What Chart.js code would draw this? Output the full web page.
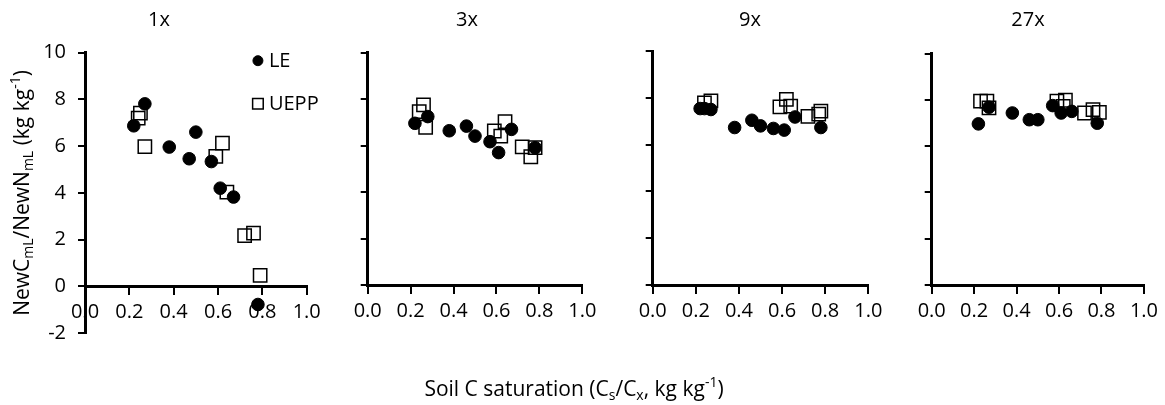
<!DOCTYPE html>
<html>
<head>
<meta charset="utf-8">
<script src="https://cdn.jsdelivr.net/npm/chart.js@4.4.1/dist/chart.umd.min.js"></script>
<style>
  html, body { margin: 0; padding: 0; background: #fff; }
  #wrap { position: relative; width: 1165px; height: 405px; }
  #wrap canvas { position: absolute; left: 0; top: 0; }
</style>
</head>
<body>
<div id="wrap">
  <canvas id="p0" width="1165" height="405"></canvas>
  <canvas id="p1" width="1165" height="405"></canvas>
  <canvas id="p2" width="1165" height="405"></canvas>
  <canvas id="p3" width="1165" height="405"></canvas>
</div>
<script>
// panel titles (number of doses)
const panelTitles = ["1x", "3x", "9x", "27x"];
const seriesNames = ["LE", "UEPP"];

// soil C saturation (x) and NewC/NewN ratio (y), per panel
const le1xX = [0.22, 0.27, 0.38, 0.47, 0.50, 0.57, 0.61, 0.67, 0.78];
const le1xY = [6.87, 7.81, 5.96, 5.46, 6.60, 5.34, 4.20, 3.82, -0.78];
const uepp1xX = [0.24, 0.25, 0.27, 0.59, 0.62, 0.64, 0.72, 0.76, 0.79];
const uepp1xY = [7.20, 7.41, 5.98, 5.56, 6.13, 4.03, 2.17, 2.28, 0.47];

const le3xX = [0.22, 0.28, 0.38, 0.46, 0.50, 0.57, 0.61, 0.67, 0.78];
const le3xY = [6.96, 7.25, 6.64, 6.84, 6.41, 6.17, 5.70, 6.70, 5.91];
const uepp3xX = [0.24, 0.26, 0.27, 0.59, 0.62, 0.64, 0.72, 0.76, 0.78];
const uepp3xY = [7.46, 7.75, 6.79, 6.63, 6.41, 7.03, 5.95, 5.52, 5.91];

const le9xX = [0.22, 0.24, 0.27, 0.38, 0.46, 0.50, 0.56, 0.61, 0.66, 0.78];
const le9xY = [7.54, 7.54, 7.50, 6.73, 7.04, 6.80, 6.69, 6.62, 7.18, 6.73];
const uepp9xX = [0.24, 0.27, 0.59, 0.62, 0.64, 0.72, 0.77, 0.78];
const uepp9xY = [7.78, 7.87, 7.61, 7.93, 7.64, 7.21, 7.30, 7.43];

const le27xX = [0.22, 0.27, 0.38, 0.46, 0.50, 0.57, 0.61, 0.66, 0.78];
const le27xY = [6.96, 7.68, 7.43, 7.14, 7.14, 7.75, 7.43, 7.50, 6.99];
const uepp27xX = [0.23, 0.26, 0.27, 0.59, 0.62, 0.63, 0.72, 0.76, 0.79];
const uepp27xY = [7.94, 7.94, 7.65, 7.94, 7.72, 7.98, 7.43, 7.58, 7.46];

const xTicks = [0, 0.2, 0.4, 0.6, 0.8, 1.0];
const yTickLabels1x = [-2, 0, 2, 4, 6, 8, 10];

const FONT = "'Open Sans', sans-serif";
const Y_AXIS_W = 40;

// plot area of each panel on the page
const panels = [
  { le: [le1xX, le1xY], uepp: [uepp1xX, uepp1xY], yMin: -2, left: 85, right: 306.7, top: 52.7, bottom: 333, titleX: 159 },
  { le: [le3xX, le3xY], uepp: [uepp3xX, uepp3xY], yMin: 0, left: 367.7, right: 582.3, top: 52.7, bottom: 285, titleX: 467 },
  { le: [le9xX, le9xY], uepp: [uepp9xX, uepp9xY], yMin: 0, left: 652.7, right: 868.3, top: 51, bottom: 285, titleX: 750 },
  { le: [le27xX, le27xY], uepp: [uepp27xX, uepp27xY], yMin: 0, left: 931.7, right: 1145, top: 53.5, bottom: 285, titleX: 1028 }
];

function toPoints(xs, ys) {
  return xs.map((x, i) => ({ x: x, y: ys[i] }));
}

// draws text with sub/superscript pieces, centred on (cx, cy)
function drawRich(ctx, pieces, cx, cy, size, rotate) {
  ctx.save();
  ctx.translate(cx, cy);
  if (rotate) ctx.rotate(-Math.PI / 2);
  ctx.textBaseline = "middle";
  ctx.textAlign = "left";
  ctx.fillStyle = "#000";
  const small = Math.round(size * 0.65);
  let total = 0;
  pieces.forEach(p => {
    ctx.font = (p[1] ? small : size) + "px " + FONT;
    total += ctx.measureText(p[0]).width;
  });
  let x = -total / 2;
  pieces.forEach(p => {
    const s = p[1] ? small : size;
    ctx.font = s + "px " + FONT;
    let dy = 0;
    if (p[1] === "sub") dy = size * 0.28;
    if (p[1] === "sup") dy = -size * 0.32;
    ctx.fillText(p[0], x, dy);
    x += ctx.measureText(p[0]).width;
  });
  ctx.restore();
}

const panelTitlePlugin = {
  id: "panelTitle",
  afterDraw(chart, args, opts) {
    const ctx = chart.ctx;
    ctx.save();
    ctx.font = "20px " + FONT;
    ctx.fillStyle = "#000";
    ctx.textAlign = "center";
    ctx.textBaseline = "middle";
    ctx.fillText(opts.text, opts.x, 20);
    ctx.restore();
  }
};

// axis titles and legend, drawn once on the first panel
const sharedTextPlugin = {
  id: "sharedText",
  afterDraw(chart, args, opts) {
    if (!opts.enabled) return;
    const ctx = chart.ctx;
    const a = chart.chartArea;
    drawRich(ctx, [["NewC"], ["mL", "sub"], ["/NewN"], ["mL", "sub"], [" (kg kg"], ["-1", "sup"], [")"]],
      23, 193, 21, true);
    drawRich(ctx, [["Soil C saturation (C"], ["s", "sub"], ["/C"], ["x", "sub"], [", kg kg"], ["-1", "sup"], [")"]],
      574, 390, 21, false);

    // legend
    const lx = a.left + (a.right - a.left) * 0.78;
    const rows = [a.top + 8, a.top + 51];
    chart.data.datasets.forEach((ds, i) => {
      ctx.save();
      ctx.fillStyle = ds.backgroundColor;
      ctx.strokeStyle = ds.borderColor;
      ctx.lineWidth = ds.borderWidth;
      Chart.helpers.drawPoint(ctx, {
        pointStyle: ds.pointStyle,
        radius: i === 0 ? 5 : 7.5,
        borderWidth: ds.borderWidth,
        rotation: 0
      }, lx, rows[i]);
      ctx.restore();
      ctx.save();
      ctx.font = "20px " + FONT;
      ctx.fillStyle = "#000";
      ctx.textBaseline = "middle";
      ctx.fillText(ds.label, lx + 11, rows[i] + 1);
      ctx.restore();
    });
  }
};

panels.forEach((p, idx) => {
  const ctx = document.getElementById("p" + idx);
  new Chart(ctx, {
    type: "scatter",
    data: {
      datasets: [
        {
          label: seriesNames[0],
          data: toPoints(p.le[0], p.le[1]),
          pointStyle: "circle",
          pointRadius: 6.3,
          pointHoverRadius: 6.3,
          backgroundColor: "#000",
          borderColor: "#000",
          borderWidth: 1
        },
        {
          label: seriesNames[1],
          data: toPoints(p.uepp[0], p.uepp[1]),
          pointStyle: "rect",
          pointRadius: 9.4,
          pointHoverRadius: 9.4,
          backgroundColor: "rgba(0,0,0,0)",
          borderColor: "#000",
          borderWidth: 1.5
        }
      ]
    },
    options: {
      responsive: false,
      animation: false,
      events: [],
      clip: false,
      layout: {
        padding: {
          left: p.left - Y_AXIS_W,
          right: 1165 - p.right,
          top: p.top,
          bottom: 405 - p.bottom
        }
      },
      plugins: {
        legend: { display: false },
        tooltip: { enabled: false },
        title: { display: false },
        panelTitle: { text: panelTitles[idx], x: p.titleX },
        sharedText: { enabled: idx === 0 }
      },
      scales: {
        x: {
          type: "linear",
          position: { y: 0 },
          min: 0,
          max: 1,
          afterFit(scale) { scale.height = 0; },
          afterBuildTicks(scale) { scale.ticks = xTicks.map(v => ({ value: v })); },
          ticks: {
            font: { family: FONT, size: 20 },
            color: "#000",
            padding: 7,
            maxRotation: 0,
            callback: v => v.toFixed(1)
          },
          grid: {
            drawOnChartArea: false,
            drawTicks: true,
            tickLength: 7,
            color: "#000",
            lineWidth: 2
          },
          border: { display: true, color: "#000", width: 3 }
        },
        y: {
          type: "linear",
          position: "left",
          min: p.yMin,
          max: 10,
          afterFit(scale) { scale.width = Y_AXIS_W; },
          ticks: {
            stepSize: 1,
            font: { family: FONT, size: 20 },
            color: "#000",
            padding: 12,
            callback: v => (idx === 0 && yTickLabels1x.includes(v)) ? String(v) : ""
          },
          grid: {
            drawOnChartArea: false,
            drawTicks: true,
            tickLength: 7,
            color: "#000",
            lineWidth: 2
          },
          border: { display: true, color: "#000", width: 3 }
        }
      }
    },
    plugins: [panelTitlePlugin, sharedTextPlugin]
  });
});
</script>
</body>
</html>
